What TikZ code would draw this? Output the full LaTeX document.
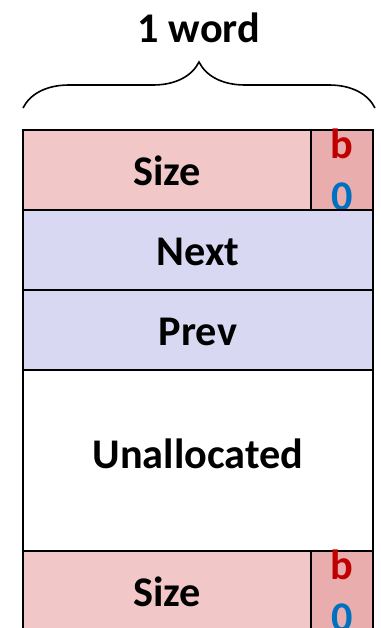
\documentclass[tikz,border=0pt]{standalone}
\usepackage{fontspec}
\setmainfont{Carlito}
\usetikzlibrary{positioning, decorations.pathreplacing}

\definecolor{sizepink}{RGB}{242,199,199}
\definecolor{flagpink}{RGB}{234,173,173}
\definecolor{linkblue}{RGB}{216,216,243}
\definecolor{bred}{RGB}{192,0,0}
\definecolor{bblue}{RGB}{0,112,192}

\begin{document}
\begin{tikzpicture}[
    x=0.75pt, y=-0.75pt,
    node distance=0pt,
    every node/.style={font=\fontsize{31.7}{37}\selectfont\bfseries},
    field/.style={rectangle, draw, line width=1.5pt, inner sep=0pt, outer sep=0pt, minimum height=60pt,
        text height=22.5pt, text depth=0pt},
    sizefield/.style={field, fill=sizepink, minimum width=216pt},
    flagfield/.style={field, fill=flagpink, minimum width=46.5pt},
    wordfield/.style={field, minimum width=262.5pt},
    bitlbl/.style={anchor=base, inner sep=0pt},
    brace/.style={decorate, decoration={brace, amplitude=34.5pt}, line width=1.2pt}
]

\useasboundingbox (0,0) rectangle (381,628);
\clip (0,0) rectangle (381,628);

% ============ HEADER ============
\node[sizefield, anchor=north west] (sizehdr) at (23,130) {Size};
\node[flagfield, right=of sizehdr] (flaghdr) {};
\node[bitlbl, text=bred] (bhdr) at ([yshift=-21pt]flaghdr.north) {b};
\node[bitlbl, text=bblue] (zhdr) at ([yshift=-39pt]bhdr.base) {0};

% ============ LINKS ============
\node[wordfield, fill=linkblue, below=of sizehdr.south west, anchor=north west] (next) {Next};
\node[wordfield, fill=linkblue, below=of next] (prev) {Prev};

% ============ PAYLOAD ============
\node[wordfield, fill=white, minimum height=135.75pt, text height=11.25pt, below=of prev] (unalloc) {Unallocated};

% ============ FOOTER ============
\node[sizefield, below=of unalloc.south west, anchor=north west] (sizeftr) {Size};
\node[flagfield, right=of sizeftr] (flagftr) {};
\node[bitlbl, text=bred] (bftr) at ([yshift=-21pt]flagftr.north) {b};
\node[bitlbl, text=bblue] (zftr) at ([yshift=-39pt]bftr.base) {0};

% ============ WORD BRACE ============
\coordinate (braceL) at (23,108);
\coordinate (braceR) at (375,108);
\draw[brace] (braceL) -- (braceR);
\node (wordlbl) at (199,28) {1 word};

\end{tikzpicture}
\end{document}
